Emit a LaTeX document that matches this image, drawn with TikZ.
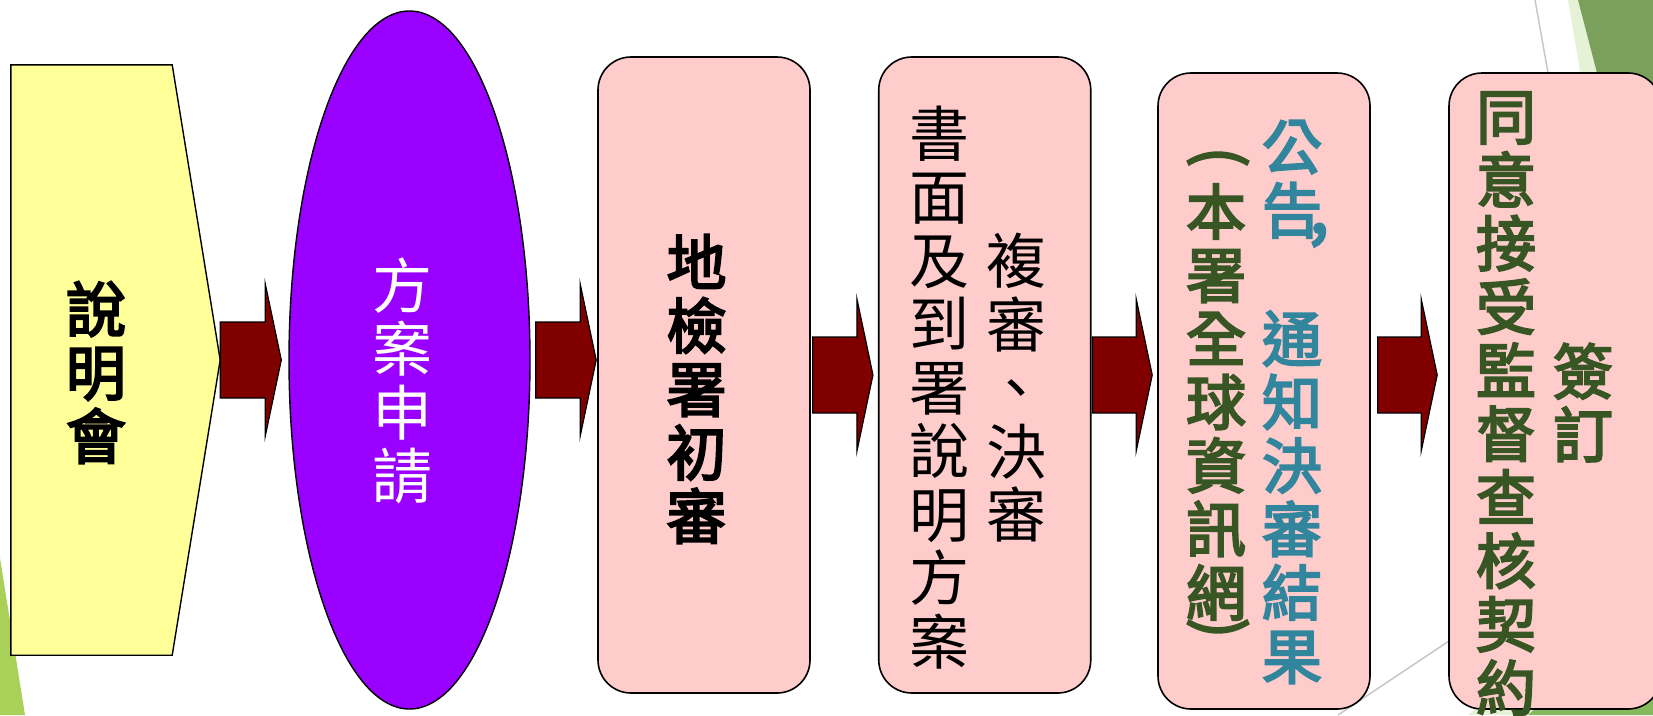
\documentclass[tikz,border=0pt]{standalone}
\usepackage{fontspec}
\newfontfamily\cjk{Noto Sans CJK TC}
\newfontfamily\cjkheavy{Noto Sans CJK TC}[FakeBold=3.5]
\usetikzlibrary{shapes.geometric,calc}

\definecolor{sayfill}{HTML}{FFFF99}
\definecolor{planfill}{HTML}{9900FF}
\definecolor{stepfill}{HTML}{FFCCCC}
\definecolor{arrowred}{HTML}{800000}
\definecolor{noticeblue}{HTML}{31859C}
\definecolor{noticegreen}{HTML}{375623}
\definecolor{leafgreen}{HTML}{A9D15A}
\definecolor{mossgreen}{HTML}{7BA05B}
\definecolor{palegreen}{HTML}{E6F2D6}
\definecolor{midgreen}{HTML}{86B85E}
\definecolor{hairgray}{HTML}{C8C8C8}

\begin{document}
\begin{tikzpicture}[
  x=1pt, y=-1pt,
  vtext/.style={font=\cjk\fontsize{60}{63.5}\selectfont, align=center, inner sep=0pt},
  btext/.style={vtext, font=\cjkheavy\fontsize{60}{63.5}\selectfont},
  sayframe/.style={minimum width=209pt, minimum height=590pt, inner sep=0pt},
  planbox/.style={ellipse, draw=black, line width=1.4pt, fill=planfill,
    minimum width=241pt, minimum height=698pt, inner sep=0pt},
  stepbox/.style={draw=black, line width=1.6pt, fill=stepfill, rounded corners=33pt,
    minimum width=212pt, minimum height=636pt, inner sep=0pt},
  flowarrow/.style={draw=black, line width=1.2pt, fill=arrowred,
    to path={let \p1=(\tikztostart), \p2=(\tikztotarget) in
      (\x1,\y1+38pt) -- (\x2-16pt,\y1+38pt) -- (\x2-16pt,\y1+76pt) -- (\x2,\y1)
      -- (\x2-16pt,\y1-76pt) -- (\x2-16pt,\y1-38pt) -- (\x1,\y1-38pt) -- cycle}}
]
\useasboundingbox (0,0) rectangle (1653,715);
\clip (0,0) rectangle (1653,715);
\fill[white] (0,0) rectangle (1653,715);

% background
\fill[leafgreen] (0,558) -- (25,715) -- (0,715) -- cycle;
\fill[palegreen] (1568,0) -- (1653,0) -- (1653,500) -- cycle;
\fill[mossgreen] (1578,0) -- (1653,0) -- (1653,288) -- cycle;
\fill[palegreen] (1468,715) -- (1653,560) -- (1653,715) -- cycle;
\fill[midgreen] (1528,715) -- (1653,600) -- (1653,715) -- cycle;
\draw[hairgray, line width=1.5pt] (1535,0) -- (1560,140);
\draw[hairgray, line width=1.5pt] (1338,715) -- (1500,607);

% steps
\node[sayframe] (say) at (115.5,360) {};
\draw[fill=sayfill, line width=1.4pt] (say.north west) -- ([xshift=-48pt]say.north east)
  -- (say.east) -- ([xshift=-48pt]say.south east) -- (say.south west) -- cycle;
\node[planbox] (plan) at (409.5,360) {};
\node[stepbox] (prelim) at (704,375) {};
\node[stepbox] (review) at (984.75,375) {};
\node[stepbox] (notice) at (1264,391) {};
\node[stepbox] (sign) at (1555,391) {};

% texts
\node[btext] (sayText) at (96,372.5) {說\\明\\會};
\node[vtext, white] (planText) at (402,381) {方\\案\\申\\請};
\node[btext] (prelimText) at (696.5,389) {地\\檢\\署\\初\\審};
\node[vtext] (reviewA) at (939,387.5) {書\\面\\及\\到\\署\\說\\明\\方\\案};
\node[vtext] (reviewB) at (1016.5,387.6) {複\\審\\、\\決\\審};
\node[btext, noticegreen] (noticeA) at (1216,402) {本\\署\\全\\球\\資\\訊\\網};
\node[btext, noticegreen, rotate=-90] (noticeOpen) at (1218,157) {(};
\node[btext, noticegreen, rotate=-90] (noticeClose) at (1218,628) {)};
\node[btext, noticeblue] (noticeB) at (1292,402)
  {公\\告\rlap{\kern-13pt\fontsize{72}{72}\selectfont,}\\[63.5pt]通\\知\\決\\審\\結\\果};
\node[btext, noticegreen] (signA) at (1506,403.5) {同\\意\\接\\受\\監\\督\\查\\核\\契\\約};
\node[btext, noticegreen] (signB) at (1583,402.5) {簽\\訂};

% arrows
\draw[flowarrow] (say.east) to ([xshift=-7pt]plan.west);
\draw[flowarrow] ([xshift=5pt]plan.east) to ([xshift=-1pt]plan.east -| prelim.west);
\draw[flowarrow] ([xshift=2pt]prelim.east) to ([xshift=-5pt]review.west);
\draw[flowarrow] ([xshift=1pt]review.east) to ([xshift=-5pt]review.east -| notice.west);
\draw[flowarrow] ([xshift=7pt]notice.east |- review.east) to ([xshift=-11pt]sign.west |- review.east);
\end{tikzpicture}
\end{document}
